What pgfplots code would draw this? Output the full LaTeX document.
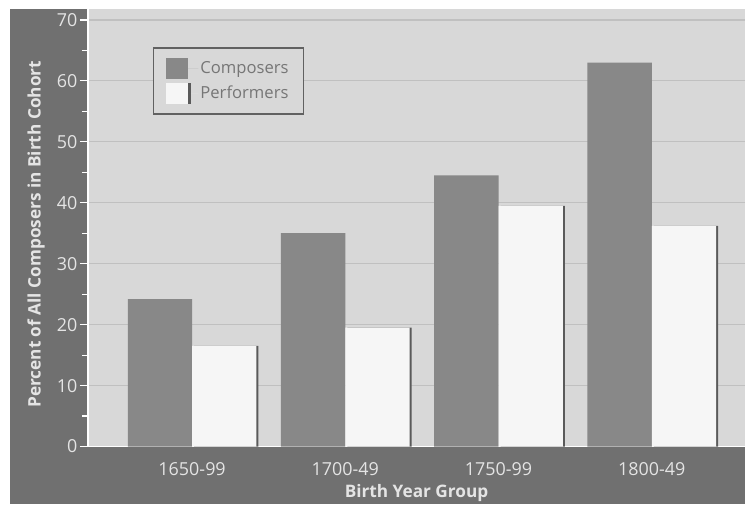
\documentclass[border=0pt]{standalone}
\usepackage{fontspec}
\setmainfont{Open Sans}
\usepackage{pgfplots}
\pgfplotsset{compat=1.18}
\definecolor{framec}{RGB}{112,112,112}
\definecolor{plotbg}{RGB}{216,216,216}
\definecolor{comp}{RGB}{136,136,136}
\definecolor{perf}{RGB}{246,246,246}
\definecolor{gridc}{RGB}{192,192,192}
\definecolor{txt}{RGB}{228,228,228}
\definecolor{legtxt}{RGB}{118,118,118}
\definecolor{shadow}{RGB}{90,90,90}
\begin{document}
\begin{tikzpicture}[x=1bp,y=1bp]
\fill[white] (0,0) rectangle (746,511);
\fill[framec] (10,6) rectangle (746,502);
\begin{axis}[
  at={(88bp,64bp)}, anchor=south west,
  scale only axis, width=658bp, height=438bp,
  xmin=-0.68, xmax=3.61, ymin=0, ymax=71.8,
  ybar,
  axis background/.style={fill=plotbg},
  axis lines*=left,
  axis line style={white, line width=1.5bp},
  ytick={0,10,...,70}, minor ytick={5,15,...,65},
  y tick style={white, line width=1.2bp},
  major tick length=8bp, minor tick length=6bp, tick align=outside,
  xtick={0,1,2,3}, xticklabels={1650-99,1700-49,1750-99,1800-49},
  x tick style={draw=none},
  ymajorgrids, grid style={gridc, line width=1.2bp},
  ticklabel style={font=\fontsize{18}{18}\selectfont, text=txt},
  yticklabel style={xshift=1bp},
  xticklabel style={yshift=-4bp},
  /pgf/number format/assume math mode=true,
  xlabel={Birth Year Group}, ylabel={Percent of All Composers in Birth Cohort},
  label style={font=\bfseries\fontsize{17.3}{17.3}\selectfont, text=txt},
  xlabel style={at={(axis description cs:0.5,0)}, anchor=center, yshift=-47bp},
  ylabel style={at={(axis description cs:-0.079,0.485)}, anchor=center},
  legend style={at={(axis description cs:0.0985,0.913)}, anchor=north west,
    fill=plotbg, draw=black!62, line width=1.6bp,
    font=\fontsize{16.7}{17}\selectfont, text=legtxt,
    inner xsep=13bp, inner ysep=10bp, row sep=4bp},
  legend cell align=left,
]
\addplot[fill=comp, draw=none, bar width=0.42, bar shift=-0.21,
  legend image code/.code={\path (0bp,0bp) -- (32bp,0bp);\fill[comp] (0bp,-10.5bp) rectangle (22bp,10.5bp);}]
  coordinates {(0,24.2) (1,35) (2,44.5) (3,63)};
\addlegendentry{Composers\hspace{18bp}}
\addplot[fill=shadow, draw=none, bar width=0.42, bar shift=0.223, forget plot]
  coordinates {(0,16.5) (1,19.5) (2,39.5) (3,36.2)};
\addplot[fill=perf, draw=none, bar width=0.42, bar shift=0.21,
  legend image code/.code={\path (0bp,0bp) -- (32bp,0bp);\fill[shadow] (2bp,-10.5bp) rectangle (25bp,10.5bp);\fill[perf] (0bp,-10.5bp) rectangle (22bp,10.5bp);}]
  coordinates {(0,16.5) (1,19.5) (2,39.5) (3,36.2)};
\addlegendentry{Performers}
\end{axis}
\end{tikzpicture}
\end{document}
